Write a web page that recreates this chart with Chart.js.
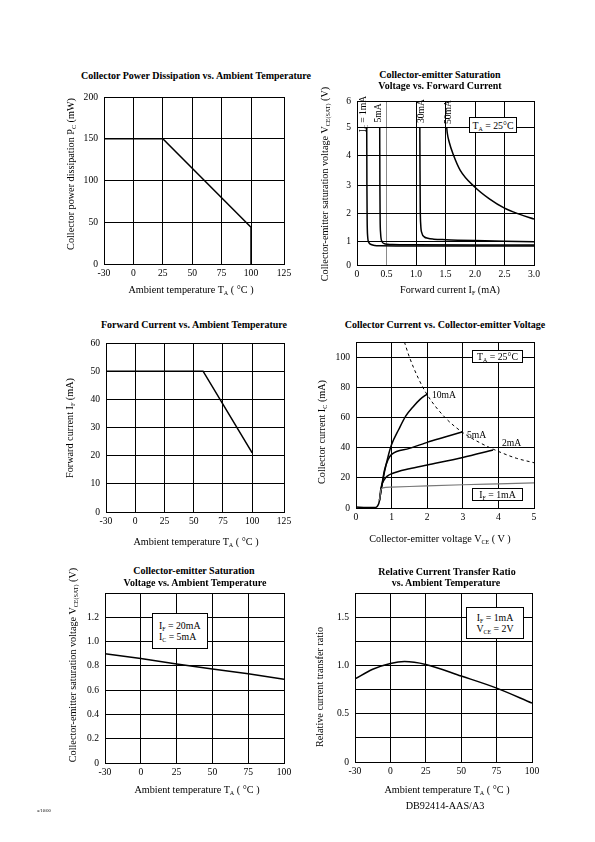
<!DOCTYPE html>
<html>
<head>
<meta charset="utf-8">
<script src="https://cdn.jsdelivr.net/npm/chart.js@4.4.0/dist/chart.umd.min.js"></script>
<style>
body { margin: 0; background: #fff; }
#page { position: relative; width: 595px; height: 842px; overflow: hidden; font-family: "Liberation Serif", "Times New Roman", serif; color: #000; }
.cv { position: absolute; }
.t { position: absolute; white-space: nowrap; font-size: 10.2px; line-height: 1; transform: translate(-50%, -50%); }
.b { font-weight: bold; font-size: 10px; }
.s { font-size: 9.6px; }
.r { transform: translate(-50%, -50%) rotate(-90deg); }
.l { transform: translate(0, -50%); }
.box { position: absolute; border: 1px solid #000; background: #fff; font-size: 9.8px; line-height: 11px; box-sizing: border-box; white-space: nowrap; display: flex; flex-direction: column; justify-content: center; }
.c { align-items: center; }
sub { font-size: 0.6em; vertical-align: -0.35em; line-height: 0; }
</style>
</head>
<body>
<div id="page">
  <canvas id="c1" class="cv"></canvas>
  <canvas id="c2" class="cv"></canvas>
  <canvas id="c3" class="cv"></canvas>
  <canvas id="c4" class="cv"></canvas>
  <canvas id="c5" class="cv"></canvas>
  <canvas id="c6" class="cv"></canvas>

  <div class="t b" style="left:196px;top:76px">Collector Power Dissipation vs. Ambient Temperature</div>
  <div class="t b" style="left:440px;top:75px">Collector-emitter Saturation</div>
  <div class="t b" style="left:440px;top:86px">Voltage vs. Forward Current</div>
  <div class="t b" style="left:194px;top:325px">Forward Current vs. Ambient Temperature</div>
  <div class="t b" style="left:445px;top:325px">Collector Current vs. Collector-emitter Voltage</div>
  <div class="t b" style="left:194px;top:571px">Collector-emitter Saturation</div>
  <div class="t b" style="left:195px;top:583px">Voltage vs. Ambient Temperature</div>
  <div class="t b" style="left:447px;top:572px">Relative Current Transfer Ratio</div>
  <div class="t b" style="left:446px;top:583px">vs. Ambient Temperature</div>

  <div class="t" style="left:191px;top:290px">Ambient temperature T<sub>A</sub> ( °C )</div>
  <div class="t" style="left:450px;top:290px">Forward current I<sub>F</sub> (mA)</div>
  <div class="t" style="left:196px;top:542px">Ambient temperature T<sub>A</sub> ( °C )</div>
  <div class="t" style="left:440px;top:539px">Collector-emitter voltage V<sub>CE</sub> ( V )</div>
  <div class="t" style="left:197px;top:790px">Ambient temperature T<sub>A</sub> ( °C )</div>
  <div class="t" style="left:447px;top:790px">Ambient temperature T<sub>A</sub> ( °C )</div>

  <div class="t r" style="left:71px;top:174px">Collector power dissipation P<sub>C</sub> (mW)</div>
  <div class="t r" style="left:325px;top:184px">Collector-emitter saturation voltage V<sub>CE(SAT)</sub> (V)</div>
  <div class="t r" style="left:70px;top:428px">Forward current I<sub>F</sub> (mA)</div>
  <div class="t r" style="left:322px;top:432px">Collector current I<sub>C</sub> (mA)</div>
  <div class="t r" style="left:73px;top:665px">Collector-emitter saturation voltage V<sub>CE(SAT)</sub> (V)</div>
  <div class="t r" style="left:320px;top:687px">Relative current transfer ratio</div>

  <div class="t r s" style="left:363px;top:114px">I<sub>C</sub> = 1mA</div>
  <div class="t r s" style="left:378px;top:113px">5mA</div>
  <div class="t r s" style="left:421px;top:111px">30mA</div>
  <div class="t r s" style="left:448px;top:112px">50mA</div>

  <div class="t l s" style="left:432px;top:395px">10mA</div>
  <div class="t l s" style="left:467px;top:435px">5mA</div>
  <div class="t l s" style="left:502px;top:443px">2mA</div>

  <div class="box c" style="left:469px;top:117px;width:48px;height:16px"><span>T<sub>A</sub> = 25°C</span></div>
  <div class="box c" style="left:472px;top:350px;width:51px;height:13px"><span>T<sub>A</sub> = 25°C</span></div>
  <div class="box c" style="left:472px;top:488px;width:51px;height:13px"><span>I<sub>F</sub> = 1mA</span></div>
  <div class="box" style="left:152px;top:613px;width:56px;height:36px;padding-left:6px">
    <div>I<sub>F</sub> = 20mA</div><div>I<sub>C</sub> = 5mA</div></div>
  <div class="box c" style="left:466px;top:607px;width:58px;height:32px">
    <div>I<sub>F</sub> = 1mA</div><div>V<sub>CE</sub> = 2V</div></div>

  <div class="t" style="left:445px;top:806px">DB92414-AAS/A3</div>
  <div class="t" style="left:44px;top:811px;font-size:4.5px">a/10/00</div>
</div>

<script>
const FONT = '"Liberation Serif", "Times New Roman", serif';

// axis ticks
const tempTicks = [-30, 0, 25, 50, 75, 100, 125];
const tempTicksShort = [-30, 0, 25, 50, 75, 100];
const pcTicks = [0, 50, 100, 150, 200];
const ifTicks = [0, 0.5, 1, 1.5, 2, 2.5, 3];
const vsatTicks = [0, 1, 2, 3, 4, 5, 6];
const ifmaTicks = [0, 10, 20, 30, 40, 50, 60];
const vceTicks = [0, 1, 2, 3, 4, 5];
const icTicks = [0, 20, 40, 60, 80, 100];
const vsatTempTicks = [0, 0.2, 0.4, 0.6, 0.8, 1.0, 1.2, 1.4];
const ctrTicks = [0, 0.25, 0.5, 0.75, 1.0, 1.25, 1.5, 1.75];

// power dissipation vs temperature
const pcTemp = [-30, 25, 100, 100];
const pcPower = [150, 150, 44, 0];

// Vce(sat) vs forward current
const ic1If = [0.165, 0.168, 0.172, 0.18, 0.2, 0.24, 0.3, 0.4, 1, 2, 3];
const ic1V = [5, 3, 1.8, 1.2, 0.97, 0.88, 0.84, 0.83, 0.82, 0.82, 0.82];
const ic5If = [0.385, 0.388, 0.392, 0.4, 0.42, 0.46, 0.52, 0.6, 1, 2, 3];
const ic5V = [5, 3, 1.8, 1.3, 1.02, 0.92, 0.89, 0.88, 0.87, 0.86, 0.86];
const ic30If = [1.065, 1.068, 1.072, 1.08, 1.1, 1.14, 1.2, 1.3, 1.5, 2, 2.5, 3];
const ic30V = [5, 3.5, 2.2, 1.6, 1.3, 1.17, 1.12, 1.09, 1.07, 1.04, 1.02, 1.0];
const ic50If = [1.52, 1.53, 1.56, 1.63, 1.75, 2, 2.25, 2.5, 2.75, 3];
const ic50V = [5, 4.8, 4.5, 4.05, 3.5, 2.92, 2.5, 2.18, 1.97, 1.8];

// forward current vs temperature
const ifTemp = [-30, 58, 100];
const ifCurrent = [50, 50, 21];

// collector current vs Vce
const baseVce = [0, 0.3, 0.55, 0.6, 0.64, 0.66];
const baseIc = [0.6, 0.3, 0.4, 1.2, 3, 5];
const if1Vce = [0.66, 0.7, 0.75, 1, 2, 3, 4, 5];
const if1Ic = [5, 12, 13.3, 13.8, 14.7, 15.4, 16, 16.6];
const if2Vce = [0.66, 0.7, 0.8, 0.9, 1.0, 1.5, 2, 3, 3.85];
const if2Ic = [5, 13, 19, 21.5, 22.7, 26, 28.5, 33.5, 38.5];
const if5Vce = [0.66, 0.72, 0.8, 0.9, 1.0, 1.5, 2, 2.5, 3];
const if5Ic = [5, 14, 25, 32, 35.5, 39.5, 43.5, 47, 50.5];
const if10Vce = [0.66, 0.72, 0.8, 0.9, 1.0, 1.2, 1.4, 1.6, 1.8, 2.0];
const if10Ic = [5, 14, 24, 34, 42, 52, 61, 67, 72, 75.5];
const limVce = [1.36, 1.5, 1.75, 2, 2.5, 3, 3.5, 4, 4.5, 5];
const limIc = [110, 100, 86, 75, 60, 50, 43, 37.5, 33, 30];

// Vce(sat) vs temperature
const vsTemp = [-30, 0, 25, 50, 75, 100];
const vsVolt = [0.9, 0.86, 0.815, 0.775, 0.735, 0.69];

// relative CTR vs temperature
const ctrTemp = [-30, -15, 0, 10, 25, 50, 75, 100];
const ctrValue = [0.86, 0.96, 1.02, 1.04, 1.01, 0.89, 0.765, 0.61];

// axis with uneven spacing between ticks, as the datasheet draws it
class BrokenScale extends Chart.LinearScale {
    static id = 'broken';
    static defaults = {};
    getPixelForValue(value) {
        const st = this.options.stops;
        const gp = this.options.gaps || st.slice(1).map(() => 1);
        const total = gp.reduce((a, b) => a + b, 0);
        let i = 0, acc = 0;
        while (i < st.length - 2 && value > st[i + 1]) { acc += gp[i]; i++; }
        const f = (acc + gp[i] * (value - st[i]) / (st[i + 1] - st[i])) / total;
        return this.getPixelForDecimal(f);
    }
}
Chart.register(BrokenScale);

const framePlugin = {
    id: 'frame',
    beforeDatasetsDraw(chart) {
        const a = chart.chartArea, ctx = chart.ctx;
        ctx.save();
        ctx.strokeStyle = '#000';
        ctx.lineWidth = 1;
        ctx.strokeRect(Math.round(a.left) + 0.5, Math.round(a.top) + 0.5, Math.round(a.right - a.left), Math.round(a.bottom - a.top));
        ctx.restore();
    }
};

function pts(xs, ys) { return xs.map((x, i) => ({ x: x, y: ys[i] })); }

function line(xs, ys, o) {
    return Object.assign({
        data: pts(xs, ys), borderColor: '#000', borderWidth: 1.5,
        pointRadius: 0, fill: false, tension: 0
    }, o || {});
}

function axis(type, ticks, fmt, extra, isY) {
    return Object.assign({
        type: type,
        min: ticks[0],
        max: ticks[ticks.length - 1],
        grid: { color: '#000', lineWidth: 1, drawTicks: false },
        border: { color: '#000', width: 1 },
        ticks: { color: '#000', font: { family: FONT, size: 9.6 }, padding: isY ? 6 : 4,
                 maxRotation: 0, autoSkip: false, callback: fmt },
        afterBuildTicks: s => { s.ticks = ticks.map(v => ({ value: v })); },
        afterFit: s => { if (isY) s.width = 40; else s.height = 26; }
    }, extra || {});
}

function makeChart(id, plot, xAxis, yAxis, datasets) {
    const L = Math.round(plot[0]), T = Math.round(plot[1]);
    const R = Math.round(plot[2]), B = Math.round(plot[3]);
    const cv = document.getElementById(id);
    cv.width = R - L + 56;
    cv.height = B - T + 38;
    cv.style.left = (L - 40) + 'px';
    cv.style.top = (T - 12) + 'px';
    return new Chart(cv, {
        type: 'line',
        data: { datasets: datasets },
        options: {
            responsive: false, animation: false, devicePixelRatio: 1, events: [],
            layout: { padding: { left: 0, top: 12, right: 16, bottom: 0 } },
            plugins: { legend: { display: false }, tooltip: { enabled: false } },
            scales: { x: xAxis, y: yAxis }
        },
        plugins: [framePlugin]
    });
}

const plain = v => String(v);
const oneDec = v => v === 0 ? '0' : v.toFixed(1);

// 1. Collector power dissipation
makeChart('c1', [104, 97, 284, 264],
    axis('broken', tempTicks, plain, { stops: tempTicks, gaps: [29.4, 29.4, 29.4, 29.4, 29.4, 33] }),
    axis('linear', pcTicks, plain, null, true),
    [line(pcTemp, pcPower)]);

// 2. Vce(sat) vs forward current
const c2x = axis('linear', ifTicks, oneDec);
c2x.grid.color = c => (c.tick && c.tick.value === 0.5) ? '#8a8a8a' : '#000';
makeChart('c2', [357, 101, 534, 265],
    c2x,
    axis('broken', vsatTicks, plain, { stops: vsatTicks, gaps: [23.3, 28.4, 28.3, 29.3, 28.4, 26.3] }, true),
    [
        line(ic1If, ic1V, { cubicInterpolationMode: 'monotone' }),
        line(ic5If, ic5V, { cubicInterpolationMode: 'monotone' }),
        line(ic30If, ic30V, { cubicInterpolationMode: 'monotone' }),
        line(ic50If, ic50V, { cubicInterpolationMode: 'monotone' })
    ]);

// 3. Forward current vs temperature
makeChart('c3', [106, 343, 284, 512],
    axis('broken', tempTicks, plain, { stops: tempTicks, gaps: [29.4, 29.4, 29.4, 29.4, 29.4, 32] }),
    axis('linear', ifmaTicks, plain, null, true),
    [line(ifTemp, ifCurrent)]);

// 4. Collector current vs Vce
const c4y = axis('linear', icTicks, plain, null, true);
c4y.max = 110;
makeChart('c4', [356, 342, 534, 508],
    axis('linear', vceTicks, plain),
    c4y,
    [
        line(baseVce, baseIc, { cubicInterpolationMode: 'monotone' }),
        line(if1Vce, if1Ic, { cubicInterpolationMode: 'monotone', borderColor: '#777', borderWidth: 1.2 }),
        line(if2Vce, if2Ic, { cubicInterpolationMode: 'monotone' }),
        line(if5Vce, if5Ic, { cubicInterpolationMode: 'monotone' }),
        line(if10Vce, if10Ic, { cubicInterpolationMode: 'monotone' }),
        line(limVce, limIc, { cubicInterpolationMode: 'monotone', borderWidth: 1, borderDash: [3, 3] })
    ]);

// 5. Vce(sat) vs temperature
makeChart('c5', [105, 593, 284, 763],
    axis('broken', tempTicksShort, plain, { stops: tempTicksShort }),
    axis('linear', vsatTempTicks, v => v > 1.3 ? '' : oneDec(v), null, true),
    [line(vsTemp, vsVolt)]);

// 6. Relative CTR vs temperature
makeChart('c6', [355, 593, 532, 762],
    axis('broken', tempTicksShort, plain, { stops: tempTicksShort }),
    axis('linear', ctrTicks, v => (Math.round(v * 100) % 50 === 0 && v < 1.7) ? oneDec(v) : '', null, true),
    [line(ctrTemp, ctrValue, { cubicInterpolationMode: 'monotone' })]);
</script>
</body>
</html>
